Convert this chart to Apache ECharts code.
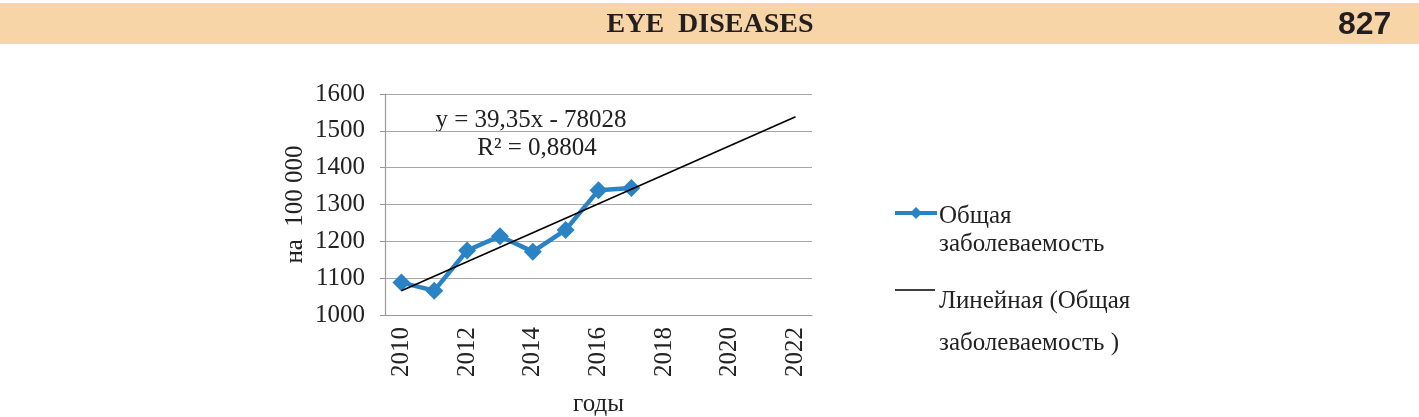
<!DOCTYPE html>
<html>
<head>
<meta charset="utf-8">
<script src="https://cdn.jsdelivr.net/npm/echarts@6/dist/echarts.min.js"></script>
<style>
html,body{margin:0;padding:0;background:#fff;}
#c{width:1419px;height:417px;}
</style>
</head>
<body>
<div id="c"></div>
<script>
var categories = ['2010','2011','2012','2013','2014','2015','2016','2017','2018','2019','2020','2021','2022'];
var incidence = [1088, 1066, 1175, 1214, 1172, 1231, 1339, 1345];
var trendYears = ['2010', '2022'];
var trendValues = [1066, 1538];
var yTicks = [1000, 1100, 1200, 1300, 1400, 1500, 1600];
var seriesName = 'Общая заболеваемость';
var trendName = 'Линейная (Общая заболеваемость )';
var equationText = 'y = 39,35x - 78028';
var r2Text = 'R² = 0,8804';

var trendData = categories.map(function (c) {
  var i = trendYears.indexOf(c);
  return i >= 0 ? trendValues[i] : null;
});

var serif = '"Liberation Serif","Times New Roman",serif';
var chart = echarts.init(document.getElementById('c'), null, {renderer: 'canvas'});
chart.setOption({
  animation: false,
  backgroundColor: '#fff',
  grid: {left: 385, right: 607, top: 94, bottom: 102, containLabel: false, outerBoundsMode: 'none'},
  xAxis: {
    type: 'category',
    data: categories,
    boundaryGap: true,
    name: 'годы',
    nameLocation: 'middle',
    nameGap: 77,
    nameTextStyle: {fontFamily: serif, fontSize: 25, color: '#222'},
    axisLine: {lineStyle: {color: '#999', width: 1.2}},
    axisTick: {interval: 1, length: 5, lineStyle: {color: '#999'}},
    axisLabel: {interval: 1, rotate: 90, fontFamily: serif, fontSize: 25, color: '#222', margin: 12}
  },
  yAxis: {
    type: 'value',
    min: 1000,
    max: 1600,
    interval: 100,
    name: 'на  100 000',
    nameLocation: 'middle',
    nameGap: 77,
    nameRotate: 90,
    nameTextStyle: {fontFamily: serif, fontSize: 25, color: '#222'},
    axisLine: {show: true, lineStyle: {color: '#999', width: 1.2}},
    axisTick: {show: true, length: 5, lineStyle: {color: '#999'}},
    axisLabel: {fontFamily: serif, fontSize: 25, color: '#222', margin: 20,
      formatter: function (v) { return yTicks.indexOf(v) >= 0 ? String(v) : ''; }},
    splitLine: {lineStyle: {color: '#a6a6a6', width: 1.2}}
  },
  series: [
    {
      name: seriesName,
      type: 'line',
      data: incidence,
      symbol: 'diamond',
      symbolSize: 18,
      lineStyle: {color: '#2a83c4', width: 4.5},
      itemStyle: {color: '#2a83c4'},
      z: 3
    },
    {
      name: trendName,
      type: 'line',
      data: trendData,
      connectNulls: true,
      symbol: 'none',
      lineStyle: {color: '#000', width: 1.6},
      z: 4
    }
  ],
  graphic: [
    {type: 'rect', shape: {x: 0, y: 3, width: 1419, height: 41}, style: {fill: '#f8d5a7'}, z: -1},
    {type: 'text', x: 710, y: 25, style: {text: 'EYE  DISEASES', font: 'bold 28px ' + serif, fill: '#231f20', align: 'center', verticalAlign: 'middle'}},
    {type: 'text', x: 1338, y: 25, style: {text: '827', font: 'bold 32px "Liberation Sans",Arial,sans-serif', fill: '#231f20', verticalAlign: 'middle'}},
    {type: 'text', x: 531, y: 120, style: {text: equationText, font: '25px ' + serif, fill: '#222', align: 'center', verticalAlign: 'middle'}},
    {type: 'text', x: 537, y: 148, style: {text: r2Text, font: '25px ' + serif, fill: '#222', align: 'center', verticalAlign: 'middle'}},
    {type: 'line', shape: {x1: 895, y1: 213, x2: 937, y2: 213}, style: {stroke: '#2a83c4', lineWidth: 4}},
    {type: 'polygon', shape: {points: [[916, 207], [922, 213], [916, 219], [910, 213]]}, style: {fill: '#2a83c4'}},
    {type: 'text', x: 939, y: 216, style: {text: 'Общая', font: '25px ' + serif, fill: '#222', verticalAlign: 'middle'}},
    {type: 'text', x: 939, y: 244, style: {text: 'заболеваемость', font: '25px ' + serif, fill: '#222', verticalAlign: 'middle'}},
    {type: 'line', shape: {x1: 895, y1: 290, x2: 935, y2: 290}, style: {stroke: '#000', lineWidth: 1.3}},
    {type: 'text', x: 939, y: 301, style: {text: 'Линейная (Общая', font: '25px ' + serif, fill: '#222', verticalAlign: 'middle'}},
    {type: 'text', x: 939, y: 343, style: {text: 'заболеваемость )', font: '25px ' + serif, fill: '#222', verticalAlign: 'middle'}}
  ]
});
</script>
</body>
</html>
